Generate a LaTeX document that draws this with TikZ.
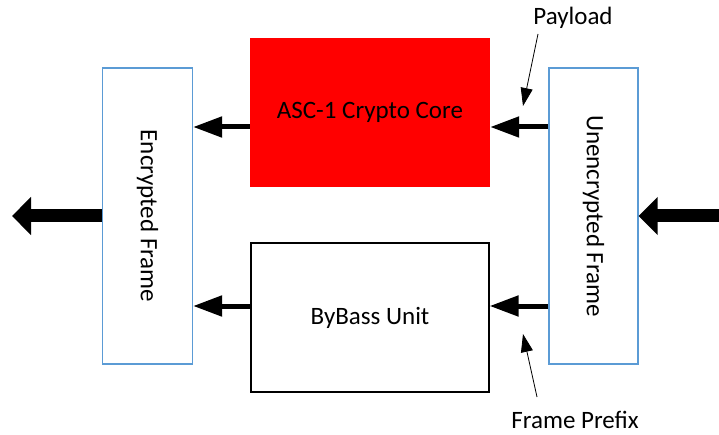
\documentclass[tikz,border=0pt]{standalone}
\usepackage{fontspec}
\setmainfont{Carlito}
\usetikzlibrary{arrows.meta}
\definecolor{frameblue}{HTML}{5B9BD5}
\begin{document}
\begin{tikzpicture}[x=1pt,y=-1pt,
  every node/.style={font=\fontsize{25}{30}\selectfont, inner sep=0pt},
  framebox/.style={draw=frameblue, line width=1.2pt, minimum width=90pt, minimum height=296pt},
  unitbox/.style={minimum width=239pt, minimum height=149pt},
  bigarrow/.style={line width=13pt, -{Triangle[length=19pt,width=37pt]}},
  midarrow/.style={line width=5pt, -{Triangle[length=29pt,width=20pt]}},
  thinarrow/.style={line width=0.8pt, -{Triangle[length=18pt,width=12pt]}}]
\useasboundingbox (0,0) rectangle (719,435);
\node[framebox] (enc) at (147.5,216) {};
\node[rotate=-90] (enctxt) at (enc.center) {Encrypted Frame};
\node[framebox, minimum width=89pt] (unenc) at (593.5,216) {};
\node[rotate=-90] (unenctxt) at (unenc.center) {Unencrypted Frame};
\node[unitbox, fill=red, minimum width=240pt] (core) at (370,112.5) {ASC-1 Crypto Core};
\node[unitbox, draw=black, line width=1.2pt, minimum width=238pt] (byp) at (370,317.5) {ByBass Unit};
\coordinate (outL) at (12,216);
\coordinate (inR) at (719,216);
\coordinate (rowA) at (0,127);
\coordinate (rowB) at (0,306);
\draw[bigarrow] (enc.west) -- (outL);
\draw[bigarrow] (inR) -- (unenc.east);
\draw[midarrow] (core.west |- rowA) -- (enc.east |- rowA);
\draw[midarrow] (unenc.west |- rowA) -- (core.east |- rowA);
\draw[midarrow] (byp.west |- rowB) -- (enc.east |- rowB);
\draw[midarrow] (unenc.west |- rowB) -- (byp.east |- rowB);
\node (pay) at (573,18) {Payload};
\node (pre) at (575,420) {Frame Prefix};
\coordinate (payS) at (538,34);
\coordinate (payE) at (523,106);
\coordinate (preS) at (537,397);
\coordinate (preE) at (523,334);
\draw[thinarrow] (payS) -- (payE);
\draw[thinarrow] (preS) -- (preE);
\end{tikzpicture}
\end{document}
